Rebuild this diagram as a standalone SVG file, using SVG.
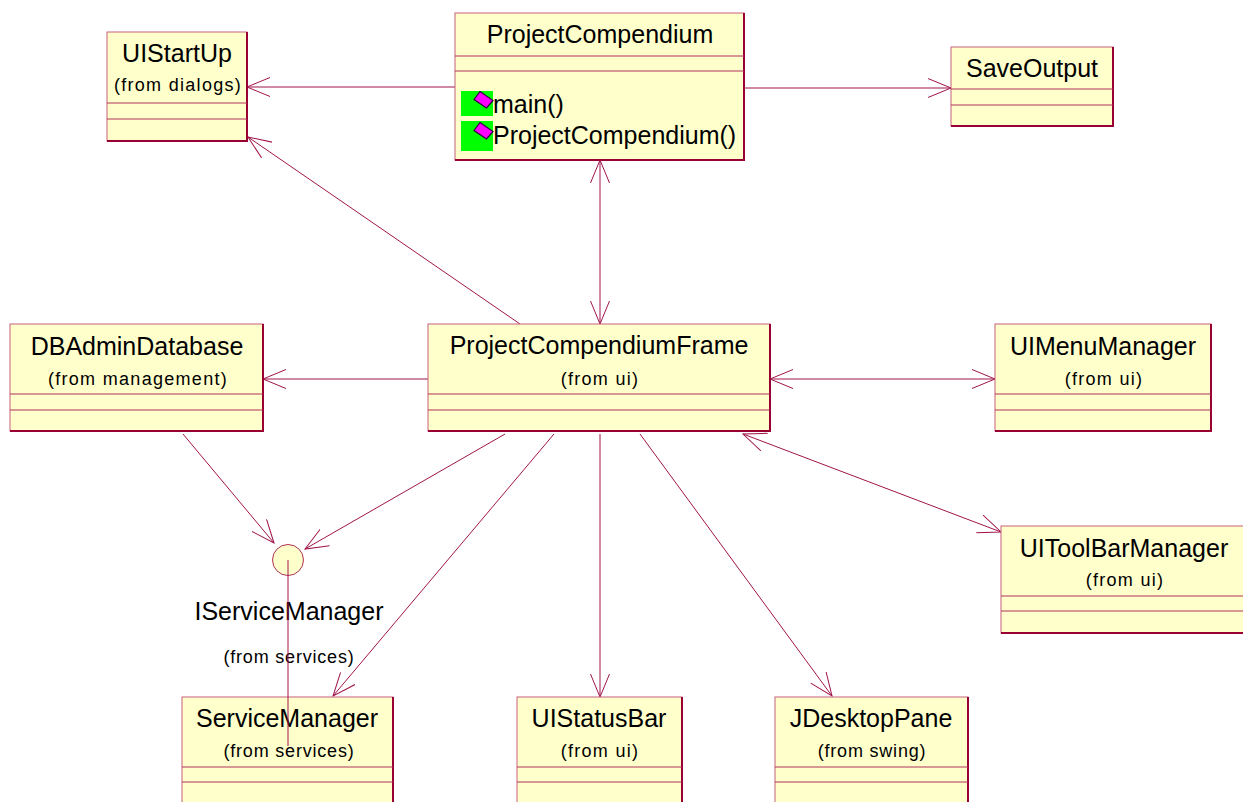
<svg xmlns="http://www.w3.org/2000/svg" width="1243" height="802" viewBox="0 0 1243 802">
<style>
.box{fill:#FFFFCC;stroke:#C8607F;stroke-width:1}
.sh{fill:none;stroke:#990033;stroke-width:2}
.dv{stroke:#B0305A;stroke-width:1}
.t{font-family:"Liberation Sans",Arial,sans-serif;font-size:25px;fill:#000;text-anchor:middle}
.s{font-size:18px;letter-spacing:1.3px}
.s2{font-size:18px;letter-spacing:0.8px}
.m{text-anchor:start}
.c{stroke:#A0144A;fill:none;stroke-width:1}
.g{fill:#00FF00}
.d{fill:#FF00FF;stroke:#300040;stroke-width:1.2}
</style>
<defs>
<marker id="a" markerUnits="userSpaceOnUse" markerWidth="24" markerHeight="20" refX="23" refY="10" orient="auto-start-reverse" viewBox="0 0 24 20">
<path d="M0,0.5 L23,10 L0,19.5" fill="none" stroke="#A0144A" stroke-width="1"/>
</marker>
</defs>
<rect width="1243" height="802" fill="#FFFFFF"/>

<g id="connectors">
<path class="c" d="M455,87 L247,87" marker-end="url(#a)"/>
<path class="c" d="M744,88 L951,88" marker-end="url(#a)"/>
<path class="c" d="M520,324 L248,137" marker-end="url(#a)"/>
<path class="c" d="M600,160 L600,324" stroke-width="1.5" marker-start="url(#a)" marker-end="url(#a)"/>
<path class="c" d="M428,379 L263,379" marker-end="url(#a)"/>
<path class="c" d="M770,379 L995,379" stroke-width="1.5" marker-start="url(#a)" marker-end="url(#a)"/>
<path class="c" d="M743,434 L1001,532" stroke-width="1.6" marker-start="url(#a)" marker-end="url(#a)"/>
<path class="c" d="M505,434 L305,549" marker-end="url(#a)"/>
<path class="c" d="M183,434 L274,543" marker-end="url(#a)"/>
<path class="c" d="M554,434 L333,696" marker-end="url(#a)"/>
<path class="c" d="M600,434 L600,697" marker-end="url(#a)"/>
<path class="c" d="M640,434 L832,696" marker-end="url(#a)"/>
</g>

<g id="UIStartUp">
<rect class="box" x="107" y="32" width="140" height="109"/>
<path class="sh" d="M247,32 V141 H107"/>
<line class="dv" x1="107" y1="103" x2="247" y2="103"/>
<line class="dv" x1="107" y1="119" x2="247" y2="119"/>
<text class="t" x="177" y="62">UIStartUp</text>
<text class="t s" x="178" y="91">(from dialogs)</text>
</g>

<g id="ProjectCompendium">
<rect class="box" x="455" y="13" width="289" height="147"/>
<path class="sh" d="M744,13 V160 H455"/>
<line class="dv" x1="455" y1="56" x2="744" y2="56"/>
<line class="dv" x1="455" y1="71" x2="744" y2="71"/>
<text class="t" x="600" y="43">ProjectCompendium</text>
<rect class="g" x="461" y="91" width="32" height="25"/>
<rect class="g" x="461" y="121" width="32" height="30"/>
<polygon class="d" points="480,91.5 493,100.5 486.5,108 474,99.5"/>
<polygon class="d" points="480,122.5 493,131.5 486.5,139 474,130.5"/>
<text class="t m" x="493" y="113">main()</text>
<text class="t m" x="493" y="144">ProjectCompendium()</text>
</g>

<g id="SaveOutput">
<rect class="box" x="951" y="47" width="162" height="79"/>
<path class="sh" d="M1113,47 V126 H951"/>
<line class="dv" x1="951" y1="89" x2="1113" y2="89"/>
<line class="dv" x1="951" y1="105" x2="1113" y2="105"/>
<text class="t" x="1032" y="77">SaveOutput</text>
</g>

<g id="DBAdminDatabase">
<rect class="box" x="10" y="324" width="253" height="107"/>
<path class="sh" d="M263,324 V431 H10"/>
<line class="dv" x1="10" y1="394" x2="263" y2="394"/>
<line class="dv" x1="10" y1="410" x2="263" y2="410"/>
<text class="t" x="137" y="355">DBAdminDatabase</text>
<text class="t s" x="138" y="385">(from management)</text>
</g>

<g id="ProjectCompendiumFrame">
<rect class="box" x="428" y="324" width="342" height="107"/>
<path class="sh" d="M770,324 V431 H428"/>
<line class="dv" x1="428" y1="394" x2="770" y2="394"/>
<line class="dv" x1="428" y1="410" x2="770" y2="410"/>
<text class="t" x="599" y="354">ProjectCompendiumFrame</text>
<text class="t s" x="600" y="385">(from ui)</text>
</g>

<g id="UIMenuManager">
<rect class="box" x="995" y="324" width="216" height="107"/>
<path class="sh" d="M1211,324 V431 H995"/>
<line class="dv" x1="995" y1="394" x2="1211" y2="394"/>
<line class="dv" x1="995" y1="410" x2="1211" y2="410"/>
<text class="t" x="1103" y="355">UIMenuManager</text>
<text class="t s" x="1104" y="385">(from ui)</text>
</g>

<g id="UIToolBarManager">
<rect class="box" x="1001" y="526" width="246" height="107"/>
<path class="sh" d="M1247,526 V633 H1001"/>
<line class="dv" x1="1001" y1="596" x2="1247" y2="596"/>
<line class="dv" x1="1001" y1="611" x2="1247" y2="611"/>
<text class="t" x="1124" y="557">UIToolBarManager</text>
<text class="t s" x="1125" y="586">(from ui)</text>
</g>

<g id="IServiceManager">
<circle cx="288" cy="560" r="15.5" fill="#FFFFCC" stroke="#B0305A" stroke-width="1"/>
<text class="t" x="289" y="620">IServiceManager</text>
<text class="t s2" x="289" y="663">(from services)</text>
</g>

<g id="ServiceManager">
<rect class="box" x="182" y="697" width="211" height="120"/>
<path class="sh" d="M393,697 V817"/>
<line class="dv" x1="182" y1="767" x2="393" y2="767"/>
<line class="dv" x1="182" y1="782" x2="393" y2="782"/>
<text class="t" x="287" y="727">ServiceManager</text>
<text class="t s2" x="289" y="757">(from services)</text>
</g>

<g id="UIStatusBar">
<rect class="box" x="517" y="697" width="165" height="120"/>
<path class="sh" d="M682,697 V817"/>
<line class="dv" x1="517" y1="767" x2="682" y2="767"/>
<line class="dv" x1="517" y1="782" x2="682" y2="782"/>
<text class="t" x="599" y="727">UIStatusBar</text>
<text class="t s" x="600" y="757">(from ui)</text>
</g>

<g id="JDesktopPane">
<rect class="box" x="775" y="697" width="193" height="120"/>
<path class="sh" d="M968,697 V817"/>
<line class="dv" x1="775" y1="767" x2="968" y2="767"/>
<line class="dv" x1="775" y1="782" x2="968" y2="782"/>
<text class="t" x="871" y="727">JDesktopPane</text>
<text class="t s2" x="872" y="757">(from swing)</text>
</g>

<g id="realization">
<path class="c" d="M288,560 L288,746"/>
</g>
</svg>
